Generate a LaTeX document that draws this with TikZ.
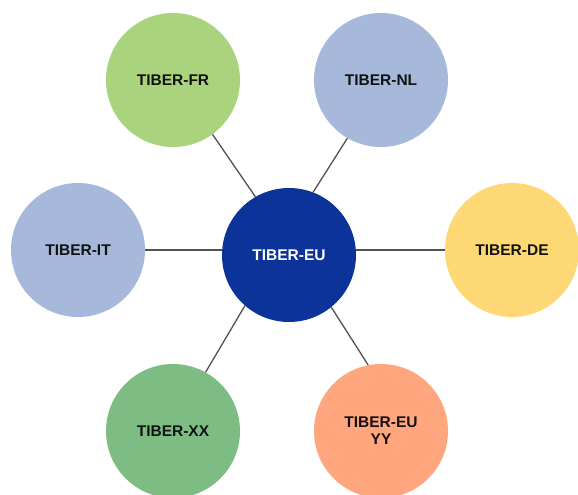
\documentclass[tikz,border=0pt]{standalone}
\usepackage{fontspec}
\setmainfont{Liberation Sans}
\begin{document}
\begin{tikzpicture}[x=1pt,y=-1pt,
  hub/.style={circle,minimum size=134pt,inner sep=0pt,align=center,
    font=\bfseries\fontsize{15.5}{17}\selectfont,text=black!93},
  link/.style={draw=black!68,line width=1.3pt}]
  \definecolor{cFR}{RGB}{169,212,125}
  \definecolor{cNL}{RGB}{166,185,219}
  \definecolor{cEU}{RGB}{11,51,153}
  \definecolor{cDE}{RGB}{255,216,118}
  \definecolor{cXX}{RGB}{125,189,132}
  \definecolor{cYY}{RGB}{255,166,126}
  \useasboundingbox (0,0) rectangle (578,495);
  \fill[white] (0,0) rectangle (578,495);
  % member circles around the central TIBER-EU circle
  \node[hub,fill=cEU,text=white] (eu) at (289,255) {TIBER-EU};
  \node[hub,fill=cFR] (fr) at (173,80) {TIBER-FR};
  \node[hub,fill=cNL] (nl) at (381,80) {TIBER-NL};
  \node[hub,fill=cNL] (it) at (78,250) {TIBER-IT};
  \node[hub,fill=cDE] (de) at (512,250) {TIBER-DE};
  \node[hub,fill=cXX] (xx) at (173,431) {TIBER-XX};
  \node[hub,fill=cYY] (yy) at (381,431) {TIBER-EU\\YY};
  % spokes
  \draw[link] (fr.306) -- (eu.120);
  \draw[link] (nl.240) -- (eu.69);
  \draw[link] (it.east) -- (eu.west |- it.east);
  \draw[link] (de.west) -- (eu.east |- de.west);
  \draw[link] (xx.61) -- (eu.229);
  \draw[link] (yy.101) -- (eu.309);
\end{tikzpicture}
\end{document}
